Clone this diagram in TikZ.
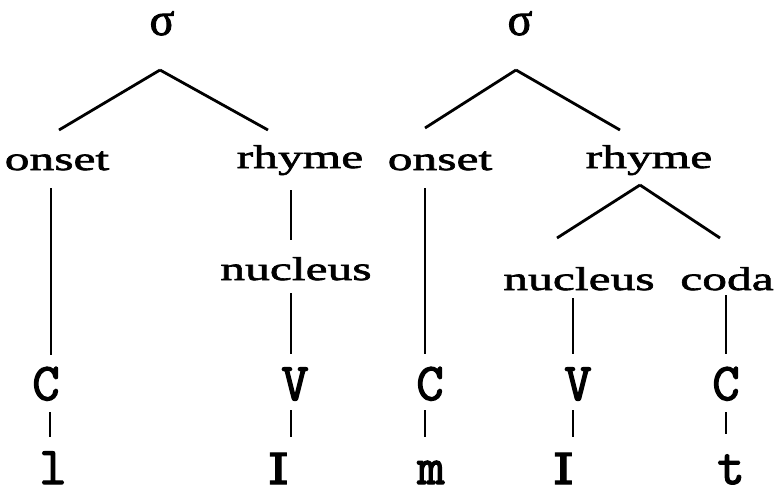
\documentclass[tikz,border=0pt]{standalone}
\usepackage{fontspec}
\setmainfont{Liberation Serif}
\newfontfamily\treefont[FakeStretch=1.5,FakeBold=2]{Liberation Serif}
\newfontfamily\sylfont[FakeBold=2]{Liberation Serif}
\newfontfamily\segfont[FakeBold=2.5]{Latin Modern Mono}
\newfontfamily\ipafont[FakeBold=2]{DejaVu Serif}
\begin{document}
\begin{tikzpicture}[x=1pt,y=-1pt,
    lab/.style={inner sep=0pt,anchor=base,font=\treefont\fontsize{33}{33}\selectfont},
    syl/.style={inner sep=0pt,anchor=base,font=\sylfont\fontsize{46}{46}\selectfont},
    seg/.style={inner sep=0pt,anchor=base,text depth=0pt,font=\segfont\fontsize{53}{53}\selectfont},
    edge/.style={line width=2.8pt}]
    \useasboundingbox (0,0) rectangle (779,488);
    % Syllables
    \node[syl] (sig1) at (162,35) {σ};
    \node[syl] (sig2) at (520,35) {σ};
    % Constituents
    \node[lab] (ons1) at (57,170) {onset};
    \node[lab] (rhy1) at (300,168) {rhyme};
    \node[lab] (ons2) at (440,170) {onset};
    \node[lab] (rhy2) at (649,168) {rhyme};
    \node[lab] (nuc1) at (296,280) {nucleus};
    \node[lab] (nuc2) at (579,290) {nucleus};
    \node[lab] (cod2) at (727,290) {coda};
    % CV tier
    \foreach \n/\x/\t in {cv1/46/C, cv2/295/V, cv3/430/C, cv4/578/V, cv5/726/C} {
        \node[seg] (\n) at (\x,400) {\t};
    }
    % Segments
    \foreach \n/\x/\t in {sg1/53/l, sg3/431/m, sg5/731/t} {
        \node[seg] (\n) at (\x,484) {\t};
    }
    \foreach \n/\x in {sg2/278, sg4/563} {
        \node[seg,font=\ipafont\fontsize{60}{60}\selectfont] (\n) at (\x,484) {ɪ};
    }
    % Ends of the branches
    \foreach \n/\x/\y in {sig1b/160/70, ons1t/59/130, rhy1t/268/130,
        sig2b/516/70, ons2t/425/128, rhy2t/620/130,
        ons1b/51/188, cv1t/51/355, rhy1b/291/190, nuc1t/291/240,
        nuc1b/291/293, cv2t/291/354, ons2b/425/188, cv3t/425/354,
        rhy2b/640/185, nuc2t/557/238, cod2t/720/238,
        nuc2b/573/298, cv4t/573/354, cod2b/726/295, cv5t/726/354,
        cv1b/50/412, sg1t/50/437, cv2b/291/410, sg2t/291/437,
        cv3b/425/410, sg3t/425/437, cv4b/573/410, sg4t/573/437,
        cv5b/726/412, sg5t/726/434} {
        \coordinate (\n) at (\x,\y);
    }
    % Branches
    \foreach \a/\b in {sig1b/ons1t, sig1b/rhy1t, sig2b/ons2t, sig2b/rhy2t,
        ons1b/cv1t, rhy1b/nuc1t, nuc1b/cv2t, ons2b/cv3t,
        rhy2b/nuc2t, rhy2b/cod2t, nuc2b/cv4t, cod2b/cv5t,
        cv1b/sg1t, cv2b/sg2t, cv3b/sg3t, cv4b/sg4t, cv5b/sg5t} {
        \draw[edge] (\a) -- (\b);
    }
\end{tikzpicture}
\end{document}
